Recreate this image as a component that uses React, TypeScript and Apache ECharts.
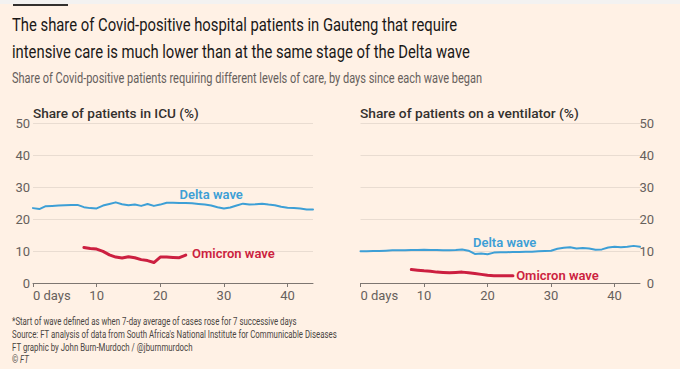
import React, { useEffect, useRef } from 'react';
import * as echarts from 'echarts';

// ---- data ----
const xTicks = [0, 10, 20, 30, 40];
const yTicks = [0, 10, 20, 30, 40, 50];
const deltaStart = 0;
const omicronStart = 8;
// Share of patients in ICU (%)
const deltaIcu = [23.4, 23.1, 24.0, 24.1, 24.2, 24.3, 24.4, 24.4, 23.7, 23.4, 23.3, 24.2, 24.7, 25.2, 24.6, 24.3, 24.5, 24.1, 24.7, 24.1, 24.5, 25.1, 25.1, 25.0, 25.0, 24.9, 24.7, 24.5, 24.2, 23.7, 23.3, 23.6, 24.2, 24.8, 24.5, 24.6, 24.8, 24.5, 24.3, 23.8, 23.5, 23.4, 23.3, 23.0, 23.0];
const omicronIcu = [11.1, 10.8, 10.6, 9.9, 8.8, 8.1, 7.8, 8.2, 7.9, 7.3, 7.0, 6.4, 8.1, 8.1, 8.0, 7.9, 8.7];
// Share of patients on a ventilator (%)
const deltaVent = [9.9, 9.9, 10.0, 10.0, 10.1, 10.2, 10.2, 10.2, 10.3, 10.3, 10.4, 10.3, 10.3, 10.2, 10.2, 10.3, 10.5, 10.1, 9.1, 9.2, 9.0, 9.5, 9.6, 9.6, 9.7, 9.7, 9.8, 9.8, 9.9, 10.0, 10.1, 10.7, 11.0, 11.2, 10.8, 10.9, 10.8, 10.4, 10.5, 11.1, 11.3, 11.2, 11.3, 11.6, 11.3];
const omicronVent = [4.2, 4.0, 3.8, 3.7, 3.4, 3.3, 3.2, 3.3, 3.4, 3.2, 3.0, 2.7, 2.4, 2.3, 2.3, 2.3, 2.3];

const titleLines = [
  'The share of Covid-positive hospital patients in Gauteng that require',
  'intensive care is much lower than at the same stage of the Delta wave',
];
const subtitle = 'Share of Covid-positive patients requiring different levels of care, by days since each wave began';
const panelTitles = ['Share of patients in ICU (%)', 'Share of patients on a ventilator (%)'];
const footerLines = [
  '*Start of wave defined as when 7-day average of cases rose for 7 successive days',
  "Source: FT analysis of data from South Africa's National Institute for Communicable Diseases",
  'FT graphic by John Burn-Murdoch / @jburnmurdoch',
];

const BLUE = '#3d9fd6';
const RED = '#cc1f40';
const GREY = '#66605c';
const GRID = '#e9dcd1';
const BG = '#fff1e5';
const NARROW = "'Liberation Sans Narrow', Roboto, sans-serif";
const SANS = "Roboto, 'Noto Sans', sans-serif";

const toPairs = (vals: number[], start: number) => vals.map((v, i) => [start + i, v]);

let measureCtx: CanvasRenderingContext2D | null = null;
function measure(text: string, size: number, weight: string | number, family: string, style = 'normal') {
  if (!measureCtx) measureCtx = document.createElement('canvas').getContext('2d');
  measureCtx!.font = `${style} ${weight} ${size}px ${family}`;
  return measureCtx!.measureText(text).width;
}

function txt(text: string, x: number, y: number, size: number, weight: string | number, color: string, family: string, scaleX: number, fontStyle = 'normal') {
  return {
    type: 'text',
    x,
    y,
    scaleX,
    silent: true,
    style: {
      text,
      fill: color,
      fontSize: size,
      fontWeight: weight,
      fontFamily: family,
      fontStyle,
      align: 'left',
      verticalAlign: 'middle',
    },
  };
}

export default function App() {
  const ref = useRef<HTMLDivElement>(null);
  useEffect(() => {
    if (!ref.current) return;
    const chart = echarts.init(ref.current, null, { renderer: 'svg' });

    const titleScale = 446 / measure(titleLines[0], 19, 'normal', NARROW);
    const subScale = 471 / measure(subtitle, 14, 'normal', NARROW);
    const footScale = 325 / measure(footerLines[1], 11, 'normal', NARROW);
    const p1Scale = 166 / measure(panelTitles[0], 13.5, 500, SANS);
    const p2Scale = 219 / measure(panelTitles[1], 13.5, 500, SANS);

    const graphics: any[] = [
      { type: 'rect', shape: { x: 0, y: 0, width: 680, height: 4 }, style: { fill: '#f3f2f1' }, silent: true },
      { type: 'rect', shape: { x: 13, y: 4, width: 55, height: 2 }, style: { fill: '#33302e' }, silent: true },
      txt(titleLines[0], 12, 24.5, 19, 'normal', '#1a1817', NARROW, titleScale),
      txt(titleLines[1], 12, 51, 19, 'normal', '#1a1817', NARROW, titleScale),
      txt(subtitle, 12, 78, 14, 'normal', GREY, NARROW, subScale),
      txt(panelTitles[0], 33, 113, 13.5, 500, '#33302e', SANS, p1Scale),
      txt(panelTitles[1], 360, 113, 13.5, 500, '#33302e', SANS, p2Scale),
      txt(footerLines[0], 12, 320.5, 11, 'normal', '#4a4542', NARROW, footScale),
      txt(footerLines[1], 12, 333.5, 11, 'normal', '#4a4542', NARROW, footScale),
      txt(footerLines[2], 12, 346.5, 11, 'normal', '#4a4542', NARROW, footScale),
      txt('©', 12, 358.5, 11, 'normal', '#4a4542', NARROW, footScale),
      txt('FT', 20, 358.5, 11, 'normal', '#4a4542', NARROW, footScale, 'italic'),
    ];

    const xAxisBase = (idx: number) => ({
      type: 'value',
      gridIndex: idx,
      min: 0,
      max: 44,
      interval: 10,
      axisLine: { show: true, lineStyle: { color: '#7d7671', width: 1 } },
      axisTick: { show: true, length: 4, customValues: xTicks, lineStyle: { color: '#7d7671' } },
      axisLabel: {
        customValues: xTicks,
        color: GREY,
        fontSize: 13,
        fontFamily: SANS,
        margin: 6,
        alignMinLabel: 'left',
        formatter: (v: number) => (v === 0 ? '0 days' : String(v)),
      },
      splitLine: { show: false },
    });

    const yAxisBase = (idx: number, right: boolean) => ({
      type: 'value',
      gridIndex: idx,
      min: 0,
      max: 50,
      interval: 10,
      position: right ? 'right' : 'left',
      axisLine: { show: false },
      axisTick: { show: false },
      axisLabel: {
        customValues: yTicks,
        color: GREY,
        fontSize: 13,
        fontFamily: SANS,
        margin: right ? 14 : 3,
        align: 'right',
      },
      splitLine: { show: true, lineStyle: { color: GRID, width: 1 } },
    });

    const lbl = (text: string, coord: number[], color: string, align: string) => ({
      coord,
      symbol: 'circle',
      symbolSize: 0,
      label: {
        show: true,
        position: 'inside',
        formatter: text,
        color,
        fontSize: 13,
        fontWeight: 600,
        fontFamily: SANS,
        align,
        verticalAlign: 'middle',
      },
    });

    const line = (name: string, data: number[][], idx: number, color: string, width: number, mark: any) => ({
      type: 'line',
      name,
      xAxisIndex: idx,
      yAxisIndex: idx,
      data,
      showSymbol: false,
      symbol: 'none',
      lineStyle: { color, width, cap: 'round', join: 'round' },
      itemStyle: { color },
      silent: true,
      markPoint: { silent: true, data: [mark], itemStyle: { color: 'rgba(0,0,0,0)' } },
    });

    chart.setOption({
      animation: false,
      backgroundColor: BG,
      textStyle: { fontFamily: SANS },
      grid: [
        { left: 33, top: 123, width: 280, height: 160 },
        { left: 360.5, top: 123, width: 279.5, height: 160 },
      ],
      xAxis: [xAxisBase(0), xAxisBase(1)],
      yAxis: [yAxisBase(0, false), yAxisBase(1, true)],
      graphic: graphics,
      series: [
        line('Delta wave ICU', toPairs(deltaIcu, deltaStart), 0, BLUE, 2, lbl('Delta wave', [28, 27.8], BLUE, 'center')),
        line('Omicron wave ICU', toPairs(omicronIcu, omicronStart), 0, RED, 3, lbl('Omicron wave', [25, 9.1], RED, 'left')),
        line('Delta wave ventilator', toPairs(deltaVent, deltaStart), 1, BLUE, 2, lbl('Delta wave', [22.7, 12.8], BLUE, 'center')),
        line('Omicron wave ventilator', toPairs(omicronVent, omicronStart), 1, RED, 3, lbl('Omicron wave', [24.5, 2.5], RED, 'left')),
      ],
    });
    return () => chart.dispose();
  }, []);

  return <div ref={ref} style={{ position: 'fixed', left: 0, top: 0, width: 680, height: 369 }} />;
}
